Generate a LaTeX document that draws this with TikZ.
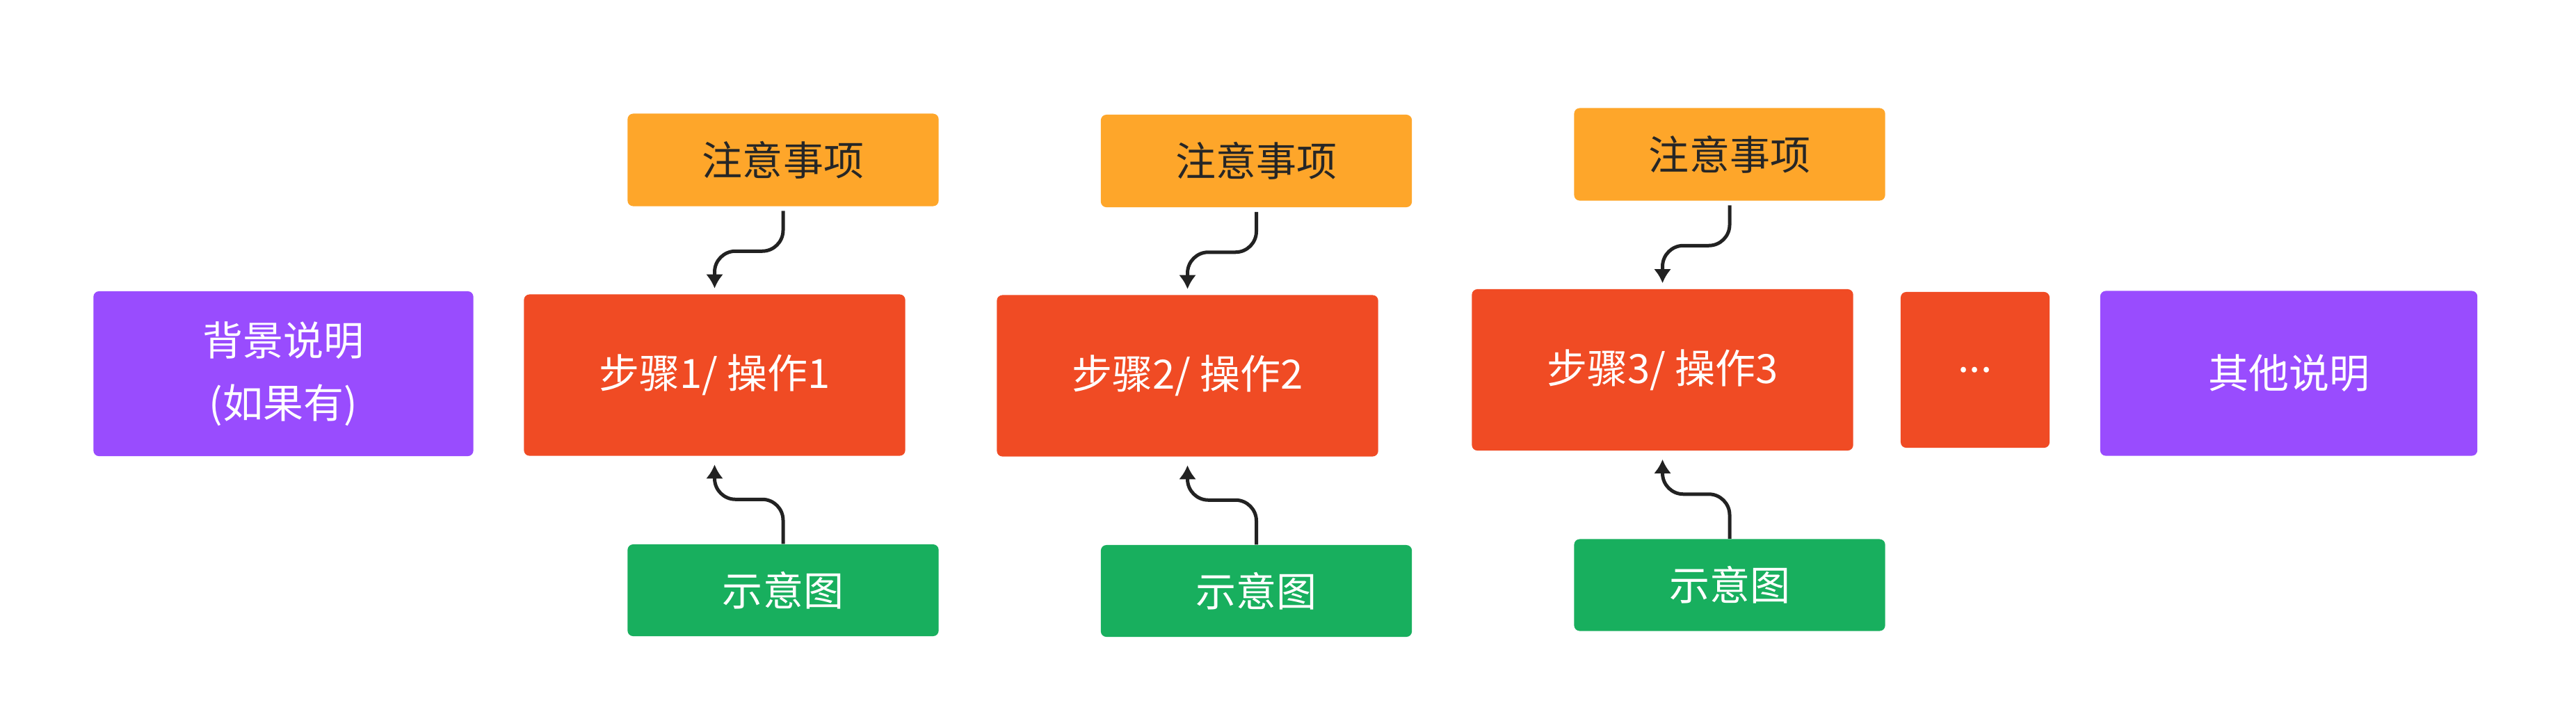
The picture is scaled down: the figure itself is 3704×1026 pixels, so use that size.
\documentclass[tikz,border=0pt]{standalone}
\usepackage{fontspec}
\setmainfont{Noto Sans CJK SC}
\usepackage{tikz}
\usetikzlibrary{arrows.meta,positioning}

\definecolor{infoPurple}{HTML}{994CFE}
\definecolor{stepRed}{HTML}{F04B24}
\definecolor{noteOrange}{HTML}{FEA62A}
\definecolor{sketchGreen}{HTML}{18AF5E}
\definecolor{linkDark}{HTML}{222222}

\begin{document}
\begin{tikzpicture}[
    x=0.01cm, y=-0.01cm,
    every node/.style={font=\fontsize{16.5}{25.6}\selectfont, align=center},
    box/.style={rounded corners=0.08cm, inner sep=0pt, draw=none},
    infobox/.style={box, fill=infoPurple, text=white, minimum width=5.46cm, minimum height=2.37cm},
    stepbox/.style={box, fill=stepRed, text=white, minimum width=5.48cm, minimum height=2.32cm},
    notebox/.style={box, fill=noteOrange, text=black!85, minimum width=4.47cm, minimum height=1.33cm},
    sketchbox/.style={box, fill=sketchGreen, text=white, minimum width=4.47cm, minimum height=1.32cm},
    link/.style={-{Latex[length=0.2cm,width=0.25cm]}, line width=0.05cm, linkDark,
                 rounded corners=0.3cm, shorten <=0.06cm, shorten >=0.08cm},
]
  \fill[white] (0,0) rectangle (3704,1026);
  \useasboundingbox (0,0) rectangle (3704,1026);

  % Intro
  \node[infobox] (intro) at (407.5,537.5) {背景说明\\(如果有)};

  % Step 1
  \node[stepbox] (step1) at (1027.5,539.5) {步骤1/ 操作1};
  \node[notebox] (note1) at (1126,230) {注意事项};
  \node[sketchbox] (sketch1) at (1126,849) {示意图};

  % Step 2
  \node[stepbox] (step2) at (1707.5,540.5) {步骤2/ 操作2};
  \node[notebox] (note2) at (1806.5,231.5) {注意事项};
  \node[sketchbox] (sketch2) at (1806.5,850) {示意图};

  % Step 3
  \node[stepbox] (step3) at (2390.5,532) {步骤3/ 操作3};
  \node[notebox] (note3) at (2487,222) {注意事项};
  \node[sketchbox] (sketch3) at (2487,841.5) {示意图};

  % More / outro
  \node[stepbox, minimum width=2.14cm, minimum height=2.24cm] (more) at (2840,532) {...};
  \node[infobox, minimum width=5.42cm] (outro) at (3291,537) {其他说明};

  % Links
  \draw[link] (note1.south) -- ++(0,64) -| (step1.north);
  \draw[link] (note2.south) -- ++(0,64) -| (step2.north);
  \draw[link] (note3.south) -- ++(0,64) -| (step3.north);
  \draw[link, shorten <=0pt, shorten >=0.12cm] (sketch1.north) -- ++(0,-64) -| (step1.south);
  \draw[link, shorten <=0pt, shorten >=0.12cm] (sketch2.north) -- ++(0,-64) -| (step2.south);
  \draw[link, shorten <=0pt, shorten >=0.12cm] (sketch3.north) -- ++(0,-64) -| (step3.south);
\end{tikzpicture}
\end{document}
